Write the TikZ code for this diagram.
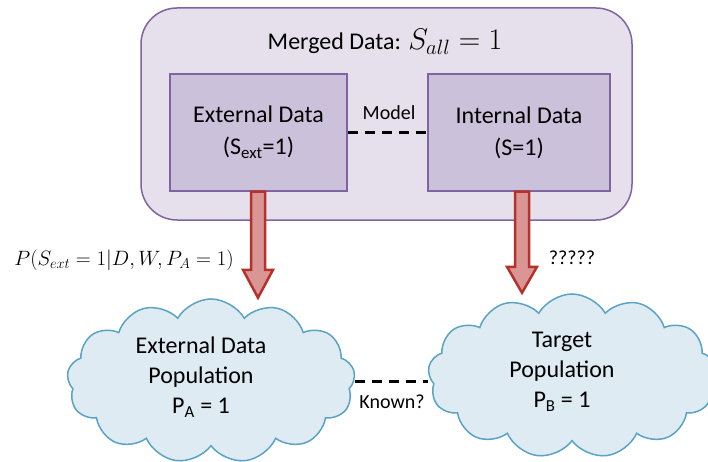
\documentclass[tikz,border=0pt]{standalone}
\usepackage{graphicx}
\usepackage{fontspec}
\setmainfont{Carlito}
\usetikzlibrary{shapes.symbols,calc}
\definecolor{outerfill}{HTML}{E6E0EC}
\definecolor{innerfill}{HTML}{CCC1DA}
\definecolor{purpleline}{HTML}{8064A2}
\definecolor{arrowfill}{HTML}{D99694}
\definecolor{arrowline}{HTML}{B7312C}
\definecolor{cloudfill}{HTML}{DEEBF2}
\definecolor{cloudline}{HTML}{5BA3C4}
\tikzset{
  outerbox/.style={draw=purpleline, fill=outerfill, line width=1.5pt, rounded corners=36pt},
  innerbox/.style={draw=purpleline, fill=innerfill, line width=1.5pt, minimum width=177pt, minimum height=117pt, align=center, font=\fontsize{24}{32}\selectfont},
  dashline/.style={draw=black, line width=3pt, dash pattern=on 10pt off 7pt},
  blockarrow/.style={draw=arrowline, fill=arrowfill, line width=2.5pt, line join=miter},
  cloudshape/.style={cloud, cloud puffs=13, cloud puff arc=120, cloud ignores aspect, draw=cloudline, fill=cloudfill, line width=1.5pt},
  cloudtext/.style={align=center, font=\fontsize{24}{30}\selectfont},
  lbl/.style={font=\fontsize{20}{24}\selectfont},
}
\begin{document}
\begin{tikzpicture}[x=1pt,y=-1pt]
\useasboundingbox (0,0) rectangle (708,462);
\clip (0,0) rectangle (708,462);
% outer merged box
\node[outerbox, minimum width=491pt, minimum height=212pt] (outer) at (386.5,114) {};
\node[font=\fontsize{24}{30}\selectfont] (title) at (385,42) {Merged Data: \scalebox{1.2}{$S_{all}=1$}};
% inner boxes
\node[innerbox] (ext) at (258.5,132.5) {External Data\\(S\textsubscript{ext}=1)};
\node[innerbox, minimum width=182pt] (int) at (519,132.5) {Internal Data\\(S=1)};
\draw[dashline] (ext.east) -- (int.west);
\node[lbl] (model) at (389,113) {Model};
% clouds
\node[cloudshape, minimum width=288pt, minimum height=164pt] (lc) at (211,381) {};
\node[cloudshape, minimum width=288pt, minimum height=164pt] (rc) at (572,376) {};
\node[cloudtext] (lct) at (201,377) {External Data\\Population\\P\textsubscript{A} = 1};
\node[cloudtext] (rct) at (562,372) {Target\\Population\\P\textsubscript{B} = 1};
\draw[dashline] (lc.east) -- (lc.east -| rc.west);
\node[lbl] (known) at (392,402) {Known?};
% block arrows
\coordinate (la) at (ext.south -| 258,0);
\coordinate (ra) at (int.south -| 522,0);
\draw[blockarrow] ($(la)+(-7,0)$) -- ($(la)+(7,0)$) -- ($(la)+(7,78)$) -- ($(la)+(15,78)$) -- ($(la)+(0,106)$) -- ($(la)+(-15,78)$) -- ($(la)+(-7,78)$) -- cycle;
\draw[blockarrow] ($(ra)+(-7,0)$) -- ($(ra)+(7,0)$) -- ($(ra)+(7,75)$) -- ($(ra)+(15,75)$) -- ($(ra)+(0,101)$) -- ($(ra)+(-15,75)$) -- ($(ra)+(-7,75)$) -- cycle;
\node[lbl] (plabel) at (124,260) {$P(S_{ext}=1|D,W,P_A=1)$};
\node[lbl] (qlabel) at (572,258) {?????};
\end{tikzpicture}
\end{document}
